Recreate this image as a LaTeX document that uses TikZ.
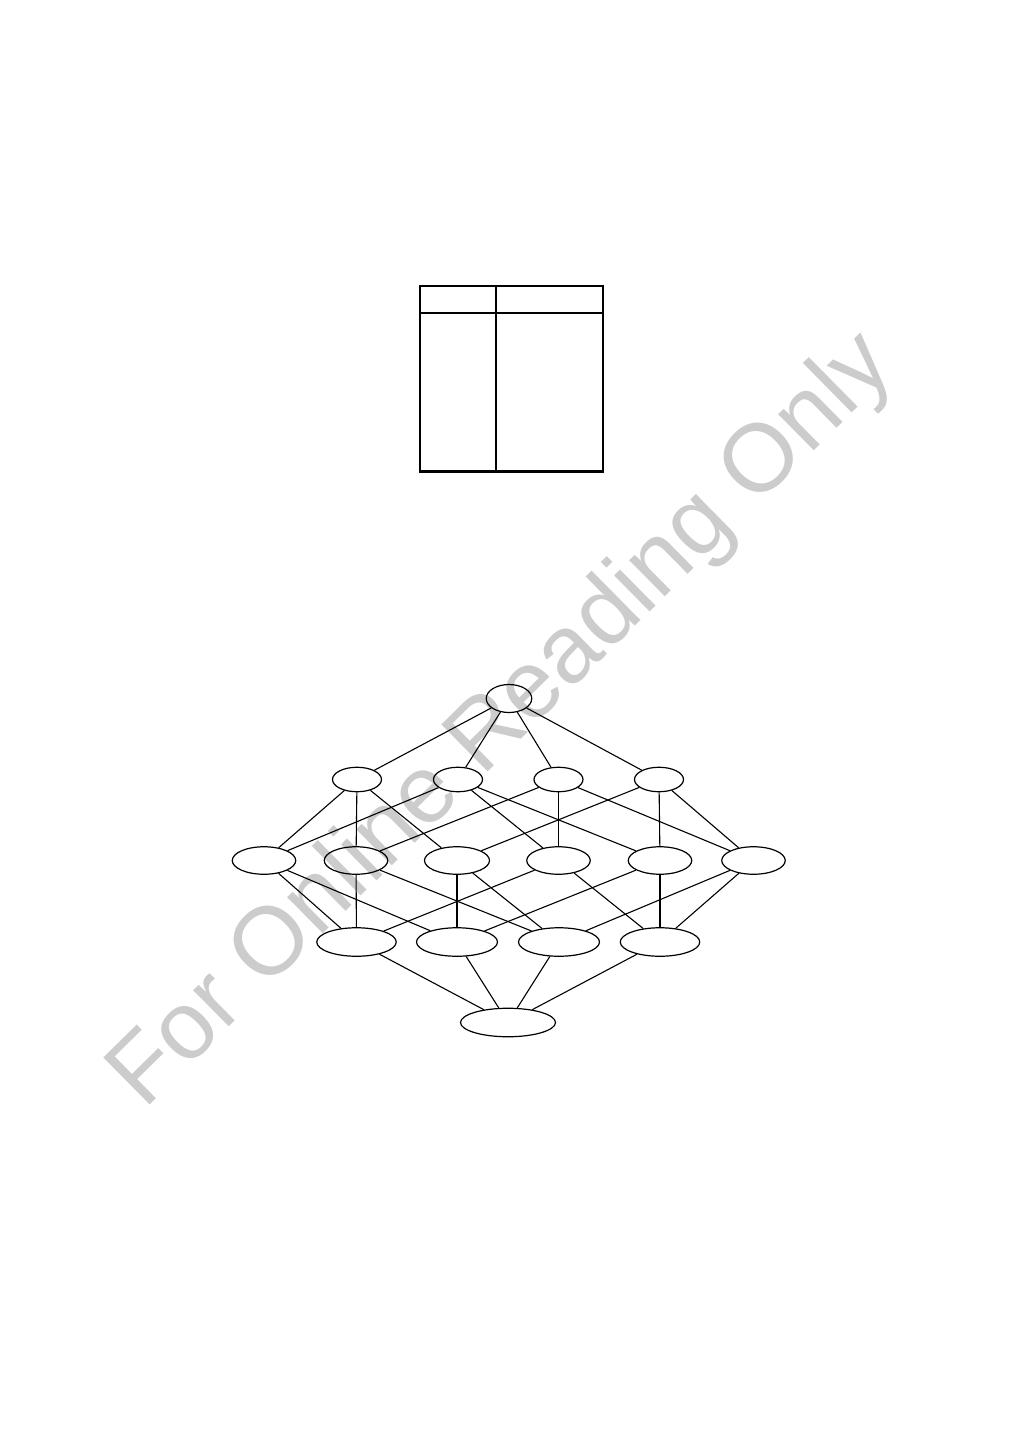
\documentclass[tikz,border=0pt]{standalone}
\usepackage{fontspec}
\setmainfont{Liberation Sans}
\usetikzlibrary{shapes.geometric}

\tikzset{
  elem/.style={draw, ellipse, inner sep=0pt, line width=1.2pt},
  one/.style={elem, minimum width=49pt, minimum height=24.5pt},
  two/.style={elem, minimum width=63.5pt, minimum height=27.5pt},
  three/.style={elem, minimum width=79.5pt, minimum height=28.5pt},
  wmark/.style={text=black!20, font=\fontsize{96}{96}\selectfont, inner sep=0pt}
}

\begin{document}
\begin{tikzpicture}[x=1pt, y=-1pt, line width=1.1pt]
\useasboundingbox (0,0) rectangle (1009,1441);

\node[wmark, rotate=44.6] (wm) at (503,722) {For Online Reading Only};

\draw[line width=2.4pt] (420,286) rectangle (603,471.5);
\draw[line width=2.4pt] (495.7,286) -- (495.7,471.5);
\draw[line width=2.4pt] (420,313) -- (603,313);

\node[elem, minimum width=45.5pt, minimum height=28pt] (Top) at (509,698.5) {};

\node[one] (A) at (357,779.5) {};
\node[one] (B) at (458,779.5) {};
\node[one] (C) at (558.5,779.5) {};
\node[one] (D) at (659,779.5) {};

\node[two] (AB) at (264,860.5) {};
\node[two] (AC) at (356,860.5) {};
\node[two, minimum width=65pt] (AD) at (457,860.5) {};
\node[two] (BC) at (558.5,860.5) {};
\node[two] (BD) at (660,860.5) {};
\node[two] (CD) at (753.5,860.5) {};

\node[three] (ABC) at (356.5,942) {};
\node[three, minimum width=81pt] (ABD) at (457,942) {};
\node[three, minimum width=81pt] (ACD) at (559,942) {};
\node[three] (BCD) at (660,942) {};

\node[elem, minimum width=95pt, minimum height=28.5pt] (ABCD) at (508,1022.5) {};

\draw (Top) -- (A);
\draw (Top) -- (B);
\draw (Top) -- (C);
\draw (Top) -- (D);

\draw (A) -- (AB);
\draw (A) -- (AC);
\draw (A) -- (AD);
\draw (B) -- (AB);
\draw (B) -- (BC);
\draw (B) -- (BD);
\draw (C) -- (AC);
\draw (C) -- (BC);
\draw (C) -- (CD);
\draw (D) -- (AD);
\draw (D) -- (BD);
\draw (D) -- (CD);

\draw (AB) -- (ABC);
\draw (AB) -- (ABD);
\draw (AC) -- (ABC);
\draw (AC) -- (ACD);
\draw (AD) -- (ABD);
\draw (AD) -- (ACD);
\draw (BC) -- (ABC);
\draw (BC) -- (BCD);
\draw (BD) -- (ABD);
\draw (BD) -- (BCD);
\draw (CD) -- (ACD);
\draw (CD) -- (BCD);

\draw (ABC) -- (ABCD);
\draw (ABD) -- (ABCD);
\draw (ACD) -- (ABCD);
\draw (BCD) -- (ABCD);
\end{tikzpicture}
\end{document}
